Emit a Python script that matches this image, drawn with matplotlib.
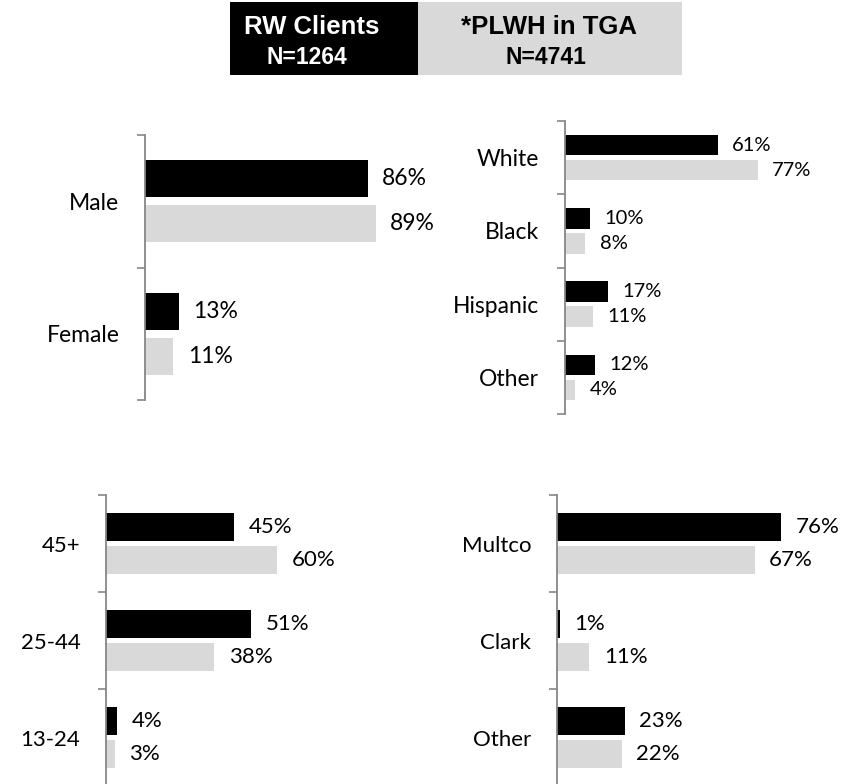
import matplotlib
matplotlib.use("Agg")
import matplotlib.pyplot as plt
from matplotlib.patches import Rectangle

# data
sex_cats = ["Male", "Female"]
sex_rw = [86, 13]
sex_plwh = [89, 11]

race_cats = ["White", "Black", "Hispanic", "Other"]
race_rw = [61, 10, 17, 12]
race_plwh = [77, 8, 11, 4]

age_cats = ["45+", "25-44", "13-24"]
age_rw = [45, 51, 4]
age_plwh = [60, 38, 3]

county_cats = ["Multco", "Clark", "Other"]
county_rw = [76, 1, 23]
county_plwh = [67, 11, 22]

BLACK = "#000000"
GRAY = "#D9D9D9"
AXIS = "#868686"
FONT = "Lato"

W, H = 863, 784
fig = plt.figure(figsize=(W / 100, H / 100), dpi=100)


def panel(left, top, bottom, scale, cats, rw, plwh, fs_val, fs_cat):
    # pixel geometry -> figure fractions
    ax = fig.add_axes([left / W, 1 - bottom / H, 100 * scale / W, (bottom - top) / H])
    n = len(cats)
    ys = list(range(n))
    bh = 0.28
    off = 0.17
    ax.barh([y - off for y in ys], rw, height=bh, color=BLACK)
    ax.barh([y + off for y in ys], plwh, height=bh, color=GRAY)
    for y, v in zip(ys, rw):
        ax.annotate(f"{v}%", (v, y - off), xytext=(10.5, 0), textcoords="offset points",
                    va="center", ha="left", fontsize=fs_val, family=FONT)
    for y, v in zip(ys, plwh):
        ax.annotate(f"{v}%", (v, y + off), xytext=(10.5, 0), textcoords="offset points",
                    va="center", ha="left", fontsize=fs_val, family=FONT)
    ax.set_xlim(0, 100)
    ax.set_ylim(n - 0.5, -0.5)
    ax.set_yticks([i - 0.5 for i in range(n + 1)])
    ax.set_yticklabels([])
    ax.set_yticks(ys, minor=True)
    ax.set_yticklabels(cats, minor=True, fontsize=fs_cat, family=FONT)
    ax.tick_params(axis="y", which="major", direction="out", length=5.8, width=1.2, color=AXIS)
    ax.tick_params(axis="y", which="minor", length=0, pad=18.5)
    ax.set_xticks([])
    for s in ["top", "right", "bottom"]:
        ax.spines[s].set_visible(False)
    ax.spines["left"].set_color(AXIS)
    ax.spines["left"].set_linewidth(1.3)
    ax.patch.set_alpha(0)
    return ax


panel(145, 135, 400, 2.59, sex_cats, sex_rw, sex_plwh, 16.5, 16.5)
panel(565, 121, 414, 2.50, race_cats, race_rw, race_plwh, 14.5, 16.5)
panel(106, 495, 786, 2.85, age_cats, age_rw, age_plwh, 16, 16)
panel(557, 495, 786, 2.95, county_cats, county_rw, county_plwh, 16, 16)

# legend boxes at top
fig.add_artist(Rectangle((230 / W, 1 - 75 / H), 188 / W, 73 / H, transform=fig.transFigure,
                         facecolor=BLACK, edgecolor="none"))
fig.add_artist(Rectangle((418 / W, 1 - 75 / H), 264 / W, 73 / H, transform=fig.transFigure,
                         facecolor=GRAY, edgecolor="none"))
fig.text(312 / W, 1 - 27 / H, "RW Clients", color="white", fontsize=18.5, fontweight="bold",
         family="Liberation Sans", ha="center", va="center")
fig.text(307 / W, 1 - 57 / H, "N=1264", color="white", fontsize=16.5, fontweight="bold",
         family="Liberation Sans", ha="center", va="center")
fig.text(549 / W, 1 - 27 / H, "*PLWH in TGA", color="black", fontsize=18.5, fontweight="bold",
         family="Liberation Sans", ha="center", va="center")
fig.text(546 / W, 1 - 57 / H, "N=4741", color="black", fontsize=16.5, fontweight="bold",
         family="Liberation Sans", ha="center", va="center")

fig.savefig("out.png", dpi=100)
